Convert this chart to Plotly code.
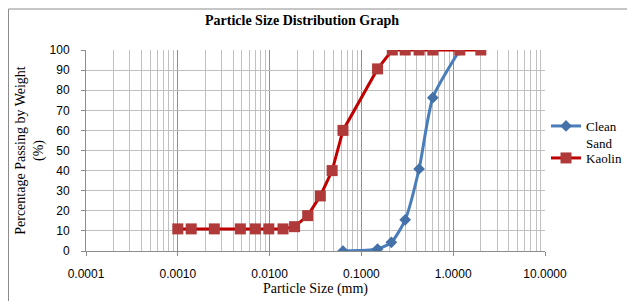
import plotly.graph_objects as go

clean_size = [0.063, 0.15, 0.212, 0.30, 0.425, 0.60, 1.18]
clean_pass = [0.0, 1.0, 4.3, 15.5, 40.8, 76.3, 100.0]

kaolin_size = [0.001, 0.0014, 0.0025, 0.0048, 0.0070, 0.0098, 0.014, 0.0187,
               0.026, 0.0357, 0.048, 0.063, 0.15, 0.217, 0.30, 0.425, 0.60, 1.18, 2.0]
kaolin_pass = [11.0, 11.0, 11.0, 11.0, 11.0, 11.0, 11.0, 12.1,
               17.6, 27.4, 40.0, 60.0, 90.6, 100.0, 100.0, 100.0, 100.0, 100.0, 100.0]

x_tickvals = [0.0001, 0.001, 0.01, 0.1, 1, 10]
x_ticktext = ["0.0001", "0.0010", "0.0100", "0.1000", "1.0000", "10.0000"]

OFF = 8  # default page body margin
W, H = 635 - OFF, 301 - OFF
L, T = 86 - OFF, 50 - OFF
R = W - (545 - OFF)
B = H - (251 - OFF)
pw, ph = W - L - R, H - T - B

def px(x):  # page pixel -> paper x
    return (x - OFF - L) / pw

def py(y):  # page pixel -> paper y
    return (H - B - (y - OFF)) / ph

def cx(x):  # page pixel -> container x
    return (x - OFF) / W

def cy(y):  # page pixel -> container y
    return 1 - (y - OFF) / H

fig = go.Figure()
fig.add_trace(go.Scatter(
    x=clean_size, y=clean_pass, name="Clean<br>Sand", mode="lines+markers",
    line=dict(color="#4a7ebb", width=3, shape="spline", smoothing=0.6),
    marker=dict(symbol="diamond", size=9, color="#4472a8"),
    legend="legend", showlegend=True,
))
fig.add_trace(go.Scatter(
    x=kaolin_size, y=kaolin_pass, name="Kaolin", mode="lines+markers",
    line=dict(color="#c00000", width=3),
    marker=dict(symbol="square", size=11, color="#b03a3a"),
    legend="legend2", showlegend=True,
))

serif = "Liberation Serif"
leg_common = dict(xanchor="left", yanchor="top",
                  font=dict(family=serif, size=13, color="black"),
                  valign="top", itemwidth=30, bgcolor="rgba(0,0,0,0)",
                  borderwidth=0)
fig.update_layout(
    width=W, height=H, showlegend=True,
    margin=dict(l=L, r=R, t=T, b=B, autoexpand=False),
    paper_bgcolor="white", plot_bgcolor="white",
    title=dict(text="<b>Particle Size Distribution Graph</b>", x=cx(302), xanchor="center",
               y=cy(20), yanchor="middle",
               font=dict(family=serif, size=14, color="black")),
    font=dict(family="Liberation Sans", size=12, color="black"),
    legend=dict(x=px(546), y=py(111), **leg_common),
    legend2=dict(x=px(546), y=py(143), **leg_common),
    xaxis=dict(
        type="log", range=[-4, 1],
        tickvals=x_tickvals, ticktext=x_ticktext,
        showgrid=True, gridcolor="#6a95cc", gridwidth=1,
        showline=True, linecolor="#8c8c8c", linewidth=1,
        ticks="outside", ticklen=4, tickcolor="#8c8c8c",
        ticklabelstandoff=8,
        minor=dict(dtick="D1", showgrid=True, gridcolor="#c0c0c0", gridwidth=1, ticks=""),
        title=dict(text="Particle Size (mm)", font=dict(family=serif, size=14), standoff=1),
        tickfont=dict(family="Liberation Sans", size=12),
        zeroline=False,
    ),
    yaxis=dict(
        range=[0, 100], dtick=10,
        showgrid=True, gridcolor="#bfbfbf", gridwidth=1,
        showline=True, linecolor="#8c8c8c", linewidth=1,
        ticks="outside", ticklen=4, tickcolor="#8c8c8c",
        ticklabelstandoff=9,
        title=dict(text="Percentage Passing by Weight<br>(%)", font=dict(family=serif, size=14), standoff=2),
        tickfont=dict(family="Liberation Sans", size=12),
        zeroline=False,
    ),
)

fig.add_shape(type="rect", xref="paper", yref="paper",
              x0=px(8.5), x1=px(660), y0=py(320), y1=py(9),
              line=dict(color="#8c8c8c", width=1), layer="above")

fig.write_html("out.html")
